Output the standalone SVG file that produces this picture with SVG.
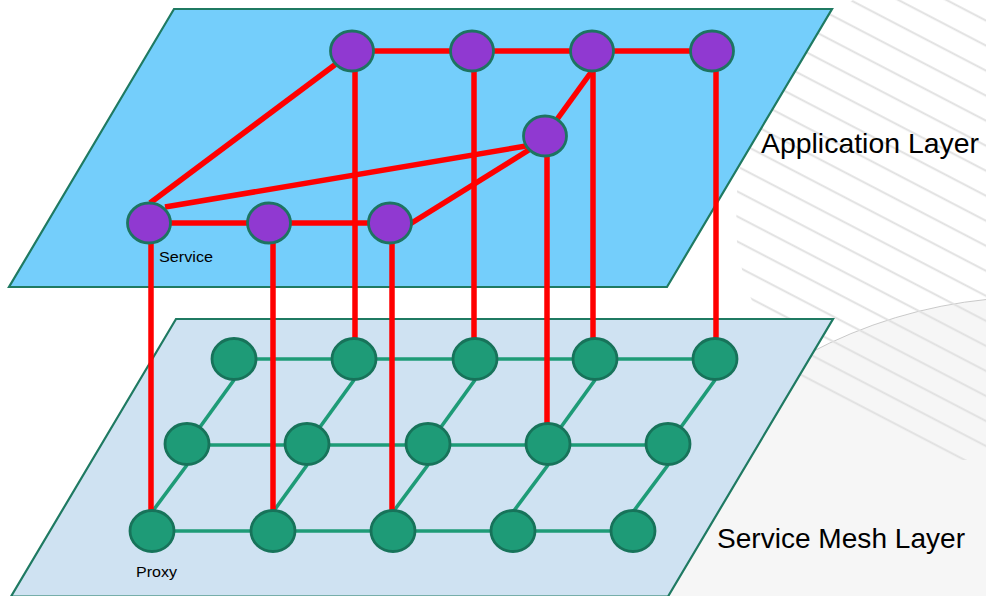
<svg xmlns="http://www.w3.org/2000/svg" width="986" height="596" viewBox="0 0 986 596">
<style>
.plane{stroke:#1F7A62;stroke-width:2.2;stroke-linejoin:miter}
.app{fill:#9039D1;stroke:#1D7461;stroke-width:2.8}
.mesh{fill:#1E9B77;stroke:#17735A;stroke-width:2.8}
.red{stroke:#FF0000;stroke-width:5.5;fill:none}
.grn{stroke:#1E9B77;stroke-width:3.6;fill:none}
.lbl{font-family:"Liberation Sans",Arial,sans-serif;fill:#000}
</style>
<defs>
<pattern id="stripes" patternUnits="userSpaceOnUse" width="40" height="22.2" patternTransform="rotate(27.5)">
<line x1="0" y1="7" x2="40" y2="7" stroke="#E0E0E0" stroke-width="2"/>
</pattern>
</defs>
<rect width="986" height="596" fill="#FFFFFF"/>
<g id="background">
<circle cx="1035" cy="778" r="481" fill="#F6F6F6" stroke="#BDBDBD" stroke-width="0.8"/>
<path d="M853,0 L810,25 L783,58 L760,100 L743,143 L736,200 L737,243 L745,285 L765,330 L803,387 L940,460 L986,460 L986,0 Z" fill="url(#stripes)"/>
</g>
<g id="app-layer">
<polygon class="plane" points="174,9 832,9 667,287 9,287" fill="#74CEFB"/>
</g>
<g id="mesh-layer">
<polygon class="plane" points="176,319 833,319 668,596.5 11,596.5" fill="#CFE2F2"/>
</g>
<g id="connectors">
<g id="mesh-links">
<line class="grn" x1="234" y1="359" x2="715" y2="359"/>
<line class="grn" x1="187" y1="445" x2="668" y2="445"/>
<line class="grn" x1="152" y1="531" x2="633" y2="531"/>
<line class="grn" x1="234" y1="380" x2="187" y2="445"/>
<line class="grn" x1="354" y1="380" x2="307" y2="445"/>
<line class="grn" x1="475" y1="380" x2="428" y2="445"/>
<line class="grn" x1="595" y1="380" x2="548" y2="445"/>
<line class="grn" x1="715" y1="380" x2="668" y2="445"/>
<line class="grn" x1="187" y1="465" x2="152" y2="512"/>
<line class="grn" x1="307" y1="465" x2="273" y2="512"/>
<line class="grn" x1="428" y1="465" x2="393" y2="512"/>
<line class="grn" x1="548" y1="465" x2="513" y2="512"/>
<line class="grn" x1="668" y1="465" x2="633" y2="512"/>
</g>
<g id="service-links">
<line class="red" x1="352" y1="51" x2="712" y2="51"/>
<line class="red" x1="149" y1="223" x2="390" y2="223"/>
<line class="red" x1="150" y1="203" x2="352" y2="52"/>
<line class="red" x1="165" y1="207" x2="532" y2="145"/>
<line class="red" x1="410" y1="224" x2="532" y2="148"/>
<line class="red" x1="545" y1="136" x2="592" y2="71"/>
<line class="red" x1="151" y1="235" x2="151" y2="520"/>
<line class="red" x1="273" y1="235" x2="273" y2="520"/>
<line class="red" x1="392" y1="235" x2="392" y2="520"/>
<line class="red" x1="355" y1="60" x2="355" y2="350"/>
<line class="red" x1="474" y1="60" x2="474" y2="350"/>
<line class="red" x1="547" y1="145" x2="547" y2="435"/>
<line class="red" x1="593" y1="60" x2="593" y2="350"/>
<line class="red" x1="716" y1="60" x2="716" y2="350"/>
</g>
</g>
<g id="mesh-nodes">
<g id="p1"><ellipse class="mesh" cx="234" cy="359" rx="22" ry="20.5"/></g>
<g id="p2"><ellipse class="mesh" cx="354" cy="359" rx="22" ry="20.5"/></g>
<g id="p3"><ellipse class="mesh" cx="475" cy="359" rx="22" ry="20.5"/></g>
<g id="p4"><ellipse class="mesh" cx="595" cy="359" rx="22" ry="20.5"/></g>
<g id="p5"><ellipse class="mesh" cx="715" cy="359" rx="22" ry="20.5"/></g>
<g id="p6"><ellipse class="mesh" cx="187" cy="444" rx="22" ry="20.5"/></g>
<g id="p7"><ellipse class="mesh" cx="307" cy="444" rx="22" ry="20.5"/></g>
<g id="p8"><ellipse class="mesh" cx="428" cy="444" rx="22" ry="20.5"/></g>
<g id="p9"><ellipse class="mesh" cx="548" cy="444" rx="22" ry="20.5"/></g>
<g id="p10"><ellipse class="mesh" cx="668" cy="444" rx="22" ry="20.5"/></g>
<g id="p11"><ellipse class="mesh" cx="152" cy="531" rx="22" ry="20.5"/></g>
<g id="p12"><ellipse class="mesh" cx="273" cy="531" rx="22" ry="20.5"/></g>
<g id="p13"><ellipse class="mesh" cx="393" cy="531" rx="22" ry="20.5"/></g>
<g id="p14"><ellipse class="mesh" cx="513" cy="531" rx="22" ry="20.5"/></g>
<g id="p15"><ellipse class="mesh" cx="633" cy="531" rx="22" ry="20.5"/></g>
</g>
<g id="app-nodes">
<g id="s1"><ellipse class="app" cx="352" cy="51" rx="21.5" ry="20"/></g>
<g id="s2"><ellipse class="app" cx="472" cy="51" rx="21.5" ry="20"/></g>
<g id="s3"><ellipse class="app" cx="592" cy="51" rx="21.5" ry="20"/></g>
<g id="s4"><ellipse class="app" cx="712" cy="51" rx="21.5" ry="20"/></g>
<g id="s5"><ellipse class="app" cx="545" cy="136" rx="21.5" ry="20"/></g>
<g id="s6"><ellipse class="app" cx="149" cy="223" rx="21.5" ry="20"/></g>
<g id="s7"><ellipse class="app" cx="269" cy="223" rx="21.5" ry="20"/></g>
<g id="s8"><ellipse class="app" cx="390" cy="223" rx="21.5" ry="20"/></g>
</g>
<g id="labels">
<text class="lbl" x="761" y="153" font-size="28" textLength="218" lengthAdjust="spacingAndGlyphs">Application Layer</text>
<text class="lbl" x="717" y="548" font-size="28" textLength="248" lengthAdjust="spacingAndGlyphs">Service Mesh Layer</text>
<text class="lbl" x="159" y="262" font-size="15" textLength="54" lengthAdjust="spacingAndGlyphs">Service</text>
<text class="lbl" x="136" y="577" font-size="15" textLength="41" lengthAdjust="spacingAndGlyphs">Proxy</text>
</g>
</svg>
